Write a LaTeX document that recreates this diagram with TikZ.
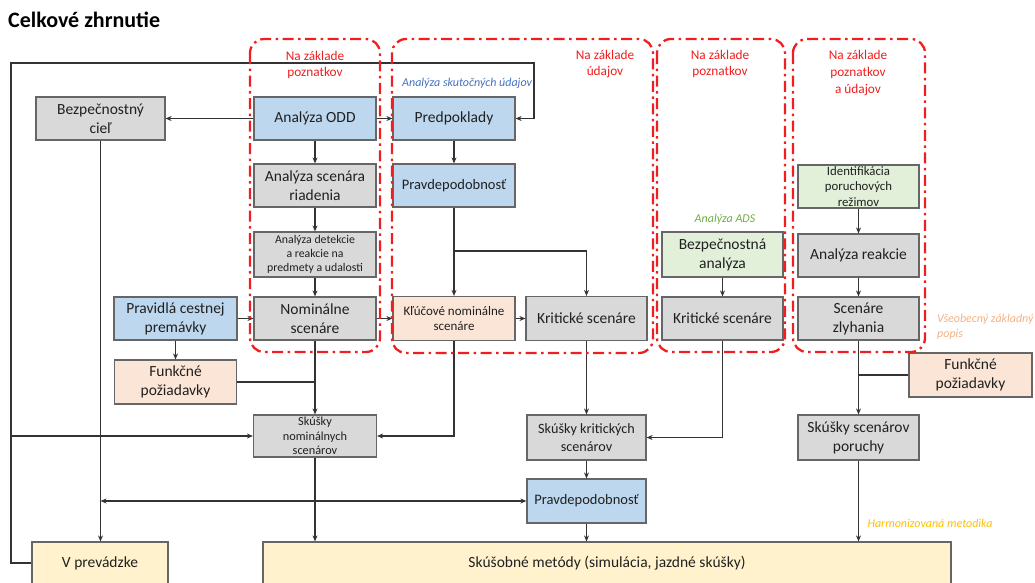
\documentclass[tikz,border=0pt]{standalone}
\usepackage{fontspec}
\setmainfont{Carlito}
\usetikzlibrary{arrows.meta}
\definecolor{gfill}{HTML}{D9D9D9}
\definecolor{bfill}{HTML}{BDD7EE}
\definecolor{grfill}{HTML}{E2F0D9}
\definecolor{pfill}{HTML}{FBE5D6}
\definecolor{yfill}{HTML}{FFF2CC}
\definecolor{bordc}{HTML}{666666}
\definecolor{linec}{HTML}{333333}
\definecolor{txtc}{HTML}{202020}
\definecolor{redc}{HTML}{F01E1E}
\definecolor{bluetxt}{HTML}{4472C4}
\definecolor{greentxt}{HTML}{70AD47}
\definecolor{orangetxt}{HTML}{F4B183}
\definecolor{yellowtxt}{HTML}{FFC000}
\begin{document}
\begin{tikzpicture}[x=1pt,y=-1pt,
  sz/.style 2 args={minimum width=#1pt, minimum height=#2pt},
  box/.style={draw=bordc, line width=1.2pt, align=center, inner sep=0pt, text=txtc, font=\fontsize{15.5}{19}\selectfont},
  gbox/.style={box, fill=gfill},
  bbox/.style={box, fill=bfill},
  grbox/.style={box, fill=grfill},
  pbox/.style={box, fill=pfill},
  ybox/.style={box, fill=yfill},
  ln/.style={draw=linec, line width=1.4pt},
  arr/.style={ln, -{Stealth[length=6pt,width=5pt]}},
  dbl/.style={ln, {Stealth[length=6pt,width=5pt]}-{Stealth[length=6pt,width=5pt]}},
  region/.style={draw=redc, line width=2.3pt, rounded corners=14pt, dash pattern=on 11pt off 4.5pt on 2.5pt off 4.5pt},
  redlbl/.style={text=redc, align=center, inner sep=0pt, font=\fontsize{13.3}{16.6}\selectfont},
  note/.style={inner sep=0pt, align=left, font=\fontsize{12}{15}\selectfont\itshape}
]
\useasboundingbox (0,0) rectangle (1035,582);

% title
\node[anchor=base west, inner sep=0pt, font=\fontsize{22}{26}\selectfont\bfseries] (title) at (8,27) {Celkové zhrnutie};

% boxes
\node[gbox, sz={129}{43}] (cil) at (100.5,118.5) {Bezpečnostný\\cieľ};
\node[bbox, sz={122}{43}] (odd) at (315,118.5) {Analýza ODD};
\node[gbox, sz={122}{43}] (riad) at (315,185.5) {Analýza scenára\\riadenia};
\node[gbox, sz={122}{45}, font=\fontsize{11.8}{14.3}\selectfont] (det) at (315,254.5) {Analýza detekcie\\a reakcie na\\predmety a udalosti};
\node[gbox, sz={122}{43}] (nom) at (315,318.5) {Nominálne\\scenáre};
\node[bbox, sz={123}{43}] (prav) at (175.5,318.5) {Pravidlá cestnej\\premávky};
\node[pbox, sz={122}{44}] (fpL) at (175.5,382) {Funkčné\\požiadavky};
\node[gbox, sz={123}{42}, font=\fontsize{12.3}{14.5}\selectfont] (skn) at (315,436) {Skúšky\\nominálnych\\scenárov};
\node[ybox, sz={136}{42}] (vp) at (100,563) {V prevádzke};
\node[ybox, sz={688}{42}] (met) at (607,563) {Skúšobné metódy (simulácia, jazdné skúšky)};

\node[bbox, sz={122}{43}] (pred) at (454,118.5) {Predpoklady};
\node[bbox, sz={122}{43}, font=\fontsize{14.5}{18}\selectfont] (pdT) at (454,185.5) {Pravdepodobnosť};
\node[pbox, sz={122}{44}, font=\fontsize{13}{15.7}\selectfont] (klu) at (454,318.5) {Kľúčové nominálne\\scenáre};
\node[gbox, sz={121}{44}] (kritM) at (586.5,318.5) {Kritické scenáre};

\node[grbox, sz={121}{45}] (bezA) at (722.5,254.5) {Bezpečnostná\\analýza};
\node[gbox, sz={121}{43}] (kritR) at (722.5,318.5) {Kritické scenáre};

\node[grbox, sz={121}{43}, font=\fontsize{12.8}{15.5}\selectfont] (ident) at (858.5,186.5) {Identifikácia\\poruchových\\režimov};
\node[gbox, sz={121}{43}] (reak) at (858.5,255.5) {Analýza reakcie};
\node[gbox, sz={121}{43}] (zlyh) at (858.5,318.5) {Scenáre\\zlyhania};
\node[pbox, sz={123}{44}] (fpR) at (970.5,375) {Funkčné\\požiadavky};
\node[gbox, sz={121}{45}] (skp) at (858.5,437.5) {Skúšky scenárov\\poruchy};

\node[gbox, sz={119}{45}, font=\fontsize{14.2}{18}\selectfont] (skk) at (586.5,437.5) {Skúšky kritických\\scenárov};
\node[bbox, sz={119}{44}, font=\fontsize{14.5}{18}\selectfont] (pdB) at (586.5,501) {Pravdepodobnosť};

% connectors
\draw[arr] (odd.west) -- (cil.east);
\draw[arr] (odd.east) -- (pred.west);
\draw[arr] (odd) -- (riad);
\draw[arr] (riad) -- (det);
\draw[arr] (det) -- (nom);
\draw[arr] (prav) -- (nom);
\draw[arr] (prav) -- (fpL);
\draw[arr] (nom) -- (klu);
\draw[arr] (nom) -- (skn);
\draw[ln] (fpL.east) -- (fpL.east -| nom.south);
\draw[arr] (pred) -- (pdT);
\draw[arr] (pdT) -- (klu);
\coordinate (br) at (454,251);
\draw[arr] (br) -| (kritM.north);
\draw[arr] (klu) -- (kritM);
\draw[arr] (klu.south) |- (skn.east);
\draw[arr] (kritM) -- (skk);
\draw[arr] (kritR.south) |- (skk.east);
\draw[arr] (bezA) -- (kritR);
\draw[arr] (ident) -- (reak);
\draw[arr] (reak) -- (zlyh);
\draw[arr] (zlyh) -- (skp);
\draw[ln] (fpR.west) -- (fpR.west -| zlyh.south);
\draw[arr] (skp.south) -- (skp.south |- met.north);
\draw[arr] (skk) -- (pdB);
\draw[arr] (pdB.south) -- (pdB.south |- met.north);
\draw[arr] (skn.south) -- (skn.south |- met.north);
\draw[arr] (cil.south) -- (cil.south |- vp.north);
\draw[dbl] (cil.south |- pdB.west) -- (pdB.west);
\coordinate (lpL) at (11,63);
\coordinate (lpR) at (534,63);
\draw[arr] (vp.west) -| (lpL) -- (lpR) |- (pred.east);
\draw[arr] (lpL |- skn.west) -- (skn.west);

% regions
\draw[region] (250,39) rectangle (380,352);
\draw[region] (392,39) rectangle (653,353);
\draw[region] (657,39) rectangle (785,352);
\draw[region] (793,39) rectangle (925,352);

% region labels
\node[redlbl] (r1) at (315,65) {Na základe\\poznatkov};
\node[redlbl] (r2) at (605,64) {Na základe\\údajov};
\node[redlbl] (r3) at (720,64) {Na základe\\poznatkov};
\node[redlbl] (r4) at (858,73) {Na základe\\poznatkov\\a údajov};

% notes
\node[note, text=bluetxt, anchor=west] (n1) at (402,83) {Analýza skutočných údajov};
\node[note, text=greentxt] (n2) at (725,219) {Analýza ADS};
\node[note, text=orangetxt, anchor=north west] (n3) at (937,314) {Všeobecný základný\\popis};
\node[note, text=yellowtxt] (n4) at (930,523) {Harmonizovaná metodika};
\end{tikzpicture}
\end{document}
